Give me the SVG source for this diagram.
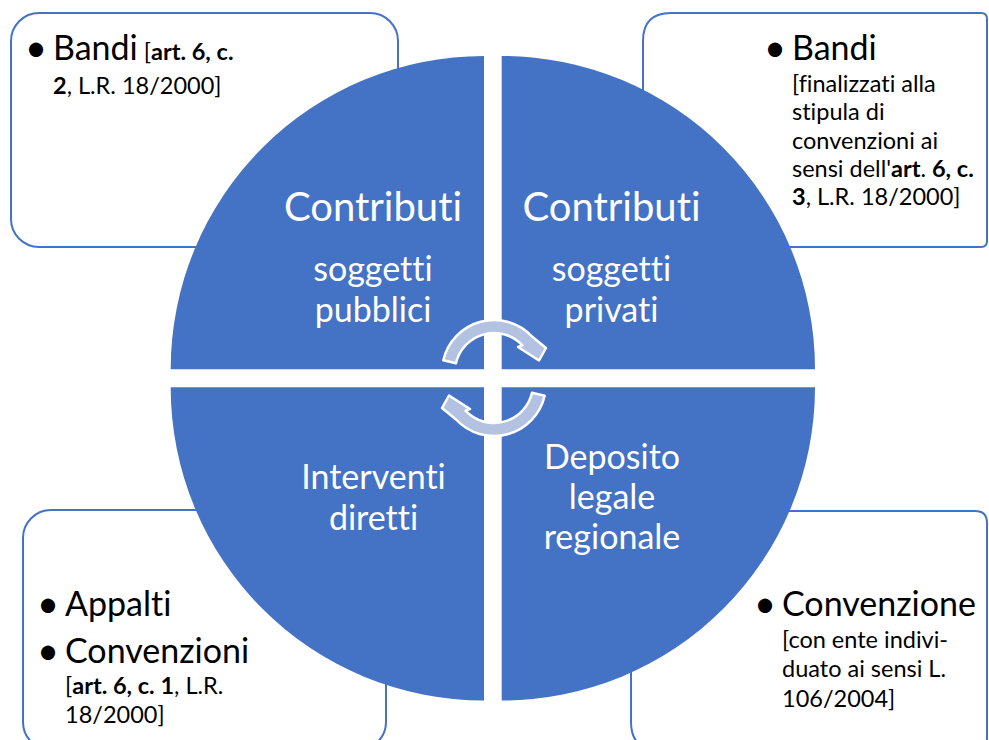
<svg xmlns="http://www.w3.org/2000/svg" width="989" height="740" viewBox="0 0 989 740">
  <style>
    text { font-variant-ligatures: none; font-feature-settings: "liga" 0, "dlig" 0; }
    .box { fill: #FFFFFF; stroke: #4472C4; stroke-width: 2; }
    .quad { fill: #4472C4; }
    .big { font-family: Lato, "Liberation Sans", sans-serif; font-size: 34px; fill: #000000; }
    .bul { font-family: Lato, "Liberation Sans", sans-serif; font-size: 38px; fill: #000000; }
    .small { font-family: Lato, "Liberation Sans", sans-serif; font-size: 23.5px; fill: #000000; }
    .b { font-weight: bold; }
    .qt { font-family: Lato, "Liberation Sans", sans-serif; fill: #FFFFFF; text-anchor: middle; }
    .q42 { font-size: 40px; }
    .q36 { font-size: 34px; }
    .arr { fill: #B4C2E2; stroke: #FFFFFF; stroke-width: 2.5; stroke-linejoin: round; }
  </style>
  <defs>
    <path id="circArrow" d="M 443.3 360.3 A 52 52 0 0 1 532 336.5 L 546 348 L 539 360.5 L 518 347 L 522.5 345.4 A 39 39 0 0 0 456 363.2 Z"/>
  </defs>
  <rect width="989" height="740" fill="#FFFFFF"/>

  <g id="box-top-left">
    <rect class="box" x="11" y="13" width="387" height="234" rx="28" ry="28"/>
    <text class="bul" x="25" y="61">•</text>
    <text class="big" x="53" y="60">Bandi<tspan class="small"> [</tspan><tspan class="small b">art. 6, c.</tspan></text>
    <text class="small" x="53" y="94"><tspan class="b">2</tspan>, L.R. 18/2000]</text>
  </g>

  <g id="box-top-right">
    <path class="box" d="M 671 13 L 981 13 Q 987 13 987 19 L 987 241 Q 987 247 981 247 L 671 247 Q 643 247 643 219 L 643 41 Q 643 13 671 13 Z"/>
    <text class="bul" x="764" y="61">•</text>
    <text class="big" x="792" y="60">Bandi</text>
    <text class="small" x="792" y="92">[finalizzati alla</text>
    <text class="small" x="792" y="120">stipula di</text>
    <text class="small" x="792" y="149">convenzioni ai</text>
    <text class="small" x="792" y="177">sensi dell'<tspan class="b">art</tspan>. <tspan class="b">6, c.</tspan></text>
    <text class="small" x="792" y="205"><tspan class="b">3</tspan>, L.R. 18/2000]</text>
  </g>

  <g id="box-bottom-left">
    <rect class="box" x="23" y="510" width="363" height="240" rx="28" ry="28"/>
    <text class="bul" x="37" y="617">•</text>
    <text class="big" x="65" y="616">Appalti</text>
    <text class="bul" x="37" y="664">•</text>
    <text class="big" x="65" y="663">Convenzioni</text>
    <text class="small" x="65" y="694">[<tspan class="b">art. 6, c. 1</tspan>, L.R.</text>
    <text class="small" x="65" y="723">18/2000]</text>
  </g>

  <g id="box-bottom-right">
    <path class="box" d="M 659 511 L 975 511 Q 987 511 987 523 L 987 738 Q 987 750 975 750 L 659 750 Q 631 750 631 722 L 631 539 Q 631 511 659 511 Z"/>
    <text class="bul" x="754" y="617">•</text>
    <text class="big" x="782" y="616">Convenzione</text>
    <text class="small" x="782" y="648">[con ente indivi-</text>
    <text class="small" x="782" y="677">duato ai sensi L.</text>
    <text class="small" x="782" y="707">106/2004]</text>
  </g>

  <g id="quad-contributi-pubblici">
    <path class="quad" d="M 484 369.3 L 170.7 369.3 A 313.3 313.3 0 0 1 484 56 Z"/>
    <text class="qt q42" x="373" y="221">Contributi</text>
    <text class="qt q36" x="373" y="281">soggetti</text>
    <text class="qt q36" x="373" y="322">pubblici</text>
  </g>

  <g id="quad-contributi-privati">
    <path class="quad" d="M 501.7 369.3 L 501.7 56 A 313.3 313.3 0 0 1 815 369.3 Z"/>
    <text class="qt q42" x="611.5" y="221">Contributi</text>
    <text class="qt q36" x="611.5" y="281">soggetti</text>
    <text class="qt q36" x="611.5" y="322">privati</text>
  </g>

  <g id="quad-interventi-diretti">
    <path class="quad" d="M 484 387.3 L 484 700.6 A 313.3 313.3 0 0 1 170.7 387.3 Z"/>
    <text class="qt q36" x="373.5" y="489">Interventi</text>
    <text class="qt q36" x="373.5" y="530">diretti</text>
  </g>

  <g id="quad-deposito-legale">
    <path class="quad" d="M 501.7 387.3 L 815 387.3 A 313.3 313.3 0 0 1 501.7 700.6 Z"/>
    <text class="qt q36" x="612" y="469">Deposito</text>
    <text class="qt q36" x="612" y="509">legale</text>
    <text class="qt q36" x="612" y="549">regionale</text>
  </g>

  <g id="connectors">
    <use href="#circArrow" class="arr"/>
    <use href="#circArrow" class="arr" transform="rotate(180 494 378)"/>
  </g>
</svg>
